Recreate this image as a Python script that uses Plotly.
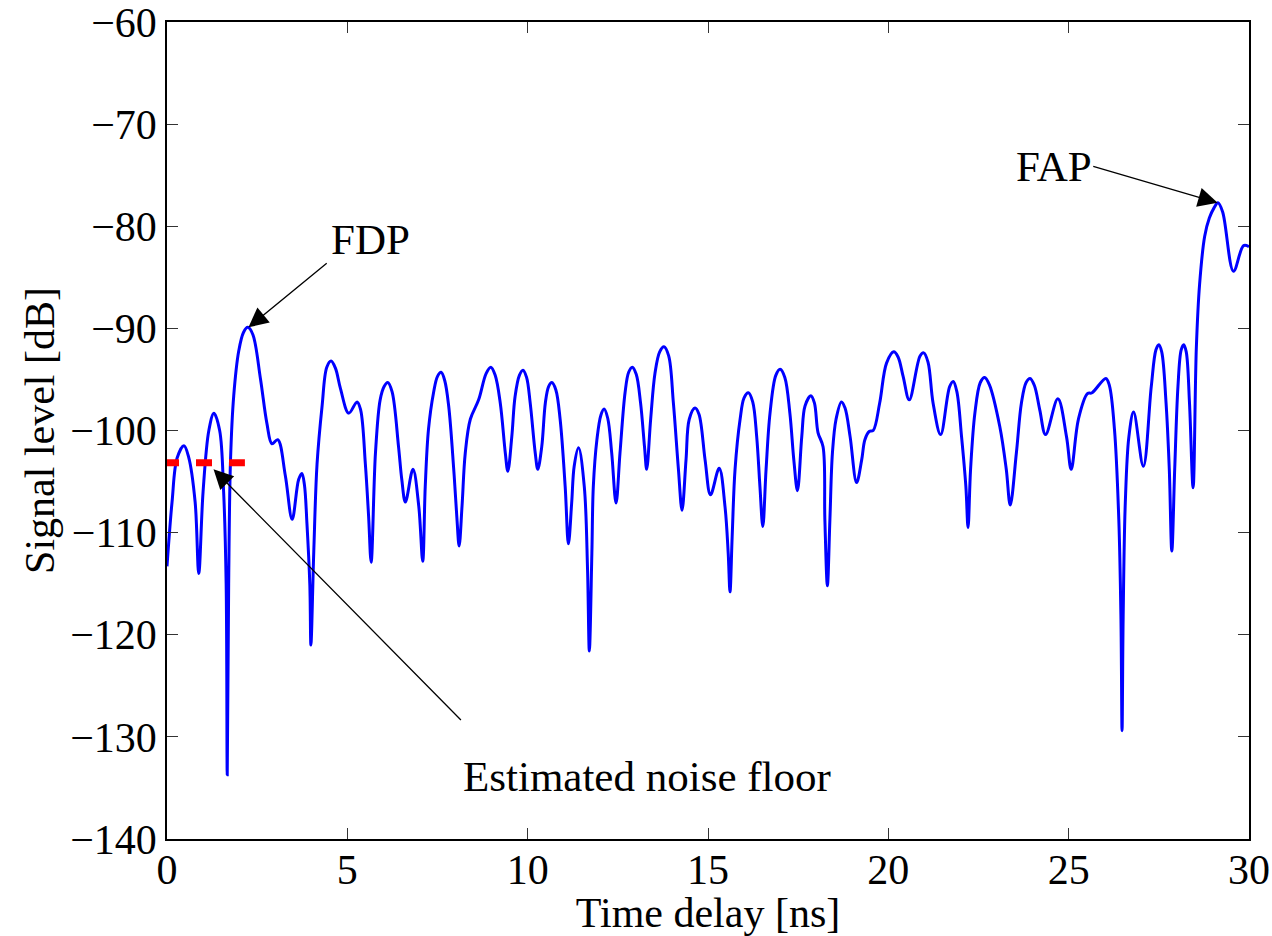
import plotly.graph_objects as go

# Time delay [ns] and signal level [dB]
delay_ns = [
    0.00, 0.14, 0.28, 0.47, 0.60, 0.78, 0.88, 1.00, 1.16, 1.30, 1.46, 1.57, 1.64, 1.67, 1.71,
    1.76, 1.85, 1.99, 2.12, 2.24, 2.38, 2.59, 2.77, 2.91, 3.07, 3.28, 3.47, 3.65, 3.74, 3.81,
    3.88, 3.96, 3.99, 4.07, 4.16, 4.30, 4.43, 4.55, 4.67, 4.81, 5.04, 5.27, 5.37, 5.50, 5.59,
    5.66, 5.78, 5.91, 6.02, 6.12, 6.24, 6.42, 6.51, 6.61, 6.82, 6.98, 7.09, 7.16, 7.25, 7.39,
    7.50, 7.60, 7.70, 7.81, 7.95, 8.04, 8.10, 8.18, 8.27, 8.41, 8.64, 8.85, 8.98, 9.10, 9.24,
    9.38, 9.45, 9.56, 9.65, 9.77, 9.87, 9.97, 10.07, 10.21, 10.28, 10.39, 10.49, 10.58, 10.67,
    10.78, 10.90, 11.04, 11.13, 11.22, 11.29, 11.41, 11.57, 11.66, 11.71, 11.78, 11.82, 11.92,
    12.03, 12.12, 12.22, 12.33, 12.45, 12.56, 12.70, 12.80, 12.90, 13.01, 13.13, 13.24, 13.30,
    13.41, 13.53, 13.66, 13.78, 13.91, 14.04, 14.18, 14.28, 14.39, 14.48, 14.64, 14.75, 14.92,
    15.07, 15.31, 15.47, 15.56, 15.61, 15.67, 15.75, 15.89, 16.00, 16.12, 16.24, 16.35, 16.44,
    16.52, 16.61, 16.72, 16.88, 17.00, 17.13, 17.27, 17.38, 17.48, 17.60, 17.69, 17.85, 17.95,
    18.05, 18.19, 18.24, 18.31, 18.38, 18.45, 18.55, 18.70, 18.80, 18.94, 19.12, 19.26, 19.35,
    19.47, 19.58, 19.76, 19.95, 20.15, 20.27, 20.41, 20.58, 20.88, 20.98, 21.10, 21.24, 21.45,
    21.70, 21.80, 21.90, 22.03, 22.15, 22.21, 22.28, 22.40, 22.55, 22.67, 22.80, 23.09, 23.27,
    23.38, 23.55, 23.69, 23.82, 23.93, 24.05, 24.20, 24.36, 24.70, 24.94, 25.07, 25.27, 25.52,
    25.65, 26.03, 26.13, 26.27, 26.39, 26.45, 26.48, 26.51, 26.57, 26.67, 26.80, 27.07, 27.29,
    27.42, 27.50, 27.58, 27.70, 27.79, 27.86, 27.94, 28.03, 28.12, 28.19, 28.26, 28.35, 28.45,
    28.54, 28.63, 28.77, 28.90, 29.03, 29.14, 29.27, 29.57, 29.85, 30.00,
]
signal_db = [
    -113.3, -107.0, -102.7, -101.5, -102.6, -107.0, -114.0, -106.0, -100.0, -98.3, -100.0, -106.0, -115.0, -133.7, -115.0,
    -103.0, -96.6, -92.2, -90.4, -89.9, -90.6, -94.9, -99.3, -101.3, -100.9, -104.4, -108.7, -104.8, -104.2, -105.3,
    -109.1, -115.1, -121.0, -111.8, -103.3, -97.6, -93.8, -93.2, -93.9, -95.9, -98.3, -97.2, -98.0, -103.3, -108.4,
    -112.9, -102.2, -97.0, -95.7, -95.3, -96.2, -101.6, -104.8, -107.0, -103.8, -107.4, -112.8, -105.5, -99.9, -96.3,
    -94.7, -94.3, -95.1, -97.6, -103.8, -108.7, -111.3, -107.4, -102.2, -98.9, -97.0, -94.4, -93.8, -94.6, -97.3,
    -102.2, -104.0, -100.6, -96.7, -94.6, -94.1, -94.8, -97.3, -102.2, -103.8, -101.6, -97.3, -95.7, -95.3,
    -96.0, -98.9, -105.5, -111.1, -107.1, -103.5, -101.7, -105.5, -113.6, -121.6, -112.0, -105.5, -100.9,
    -98.5, -97.9, -98.8, -102.2, -107.1, -102.2, -96.3, -94.3, -93.8, -94.5, -97.3, -101.6, -103.8,
    -98.9, -94.4, -92.3, -91.8, -92.7, -97.3, -103.8, -107.8, -102.9, -98.9, -97.8, -98.4, -102.9,
    -106.3, -103.7, -107.4, -112.0, -115.8, -110.4, -103.8, -98.9, -96.8, -96.3, -97.2, -100.6, -105.5,
    -109.4, -103.8, -98.3, -94.6, -94.0, -94.8, -98.3, -102.9, -105.9, -100.6, -97.6, -96.6, -97.3,
    -100.2, -101.6, -108.7, -115.2, -108.7, -102.2, -98.9, -97.2, -97.8, -100.6, -105.1, -102.9, -100.9,
    -100.1, -100.0, -97.3, -93.4, -92.3, -92.8, -94.7, -97.0, -92.7, -92.4, -93.3, -97.3, -100.4,
    -95.7, -95.2, -96.2, -100.6, -105.5, -109.5, -103.8, -98.3, -95.3, -94.8, -95.5, -99.6, -103.8,
    -107.3, -102.2, -97.3, -95.3, -94.9, -95.6, -98.0, -100.4, -96.9, -100.6, -103.8, -98.9, -96.4,
    -96.3, -94.9, -95.6, -99.9, -108.7, -118.5, -129.4, -118.5, -107.1, -100.6, -98.2, -103.5, -95.7,
    -92.1, -91.6, -92.3, -97.3, -103.8, -111.8, -103.8, -95.7, -92.1, -91.6, -92.3, -97.3, -105.6,
    -91.9, -85.7, -81.0, -79.2, -78.2, -77.7, -78.6, -84.4, -81.9, -82.0,
]

# Estimated noise floor segment
noise_x = [0.0, 2.16]
noise_y = [-103.15, -103.15]

x_ticks = [0, 5, 10, 15, 20, 25, 30]
y_ticks = [-140, -130, -120, -110, -100, -90, -80, -70, -60]

FONT = "Liberation Serif"

fig = go.Figure()
fig.add_trace(go.Scatter(
    x=delay_ns, y=signal_db, mode="lines",
    line=dict(color="rgb(0,0,255)", width=3, shape="spline", smoothing=1.0),
    showlegend=False, hoverinfo="skip",
))
fig.add_trace(go.Scatter(
    x=noise_x, y=noise_y, mode="lines",
    line=dict(color="rgb(255,0,0)", width=7, dash="12px,17px,16px,17px,16px,600px"),
    showlegend=False, hoverinfo="skip",
))

# Arrows (empty text, tail in data coordinates)
arrows = [
    dict(x=2.26, y=-89.9, ax=4.47, ay=-83.5),      # FDP
    dict(x=29.13, y=-77.7, ax=25.64, ay=-74.1),    # FAP
    dict(x=1.29, y=-103.8, ax=8.19, ay=-128.5),    # noise floor
]
for a in arrows:
    fig.add_annotation(
        x=a["x"], y=a["y"], ax=a["ax"], ay=a["ay"], xref="x", yref="y",
        axref="x", ayref="y", text="", showarrow=True,
        arrowhead=2, arrowsize=3, arrowwidth=1.3, arrowcolor="black",
    )

labels = [
    dict(text="FDP", x=5.64, y=-81.3),
    dict(text="FAP", x=24.6, y=-74.1),
    dict(text="Estimated noise floor", x=13.31, y=-133.9),
]
for l in labels:
    fig.add_annotation(
        x=l["x"], y=l["y"], xref="x", yref="y", text=l["text"], showarrow=False,
        font=dict(family=FONT, size=43, color="black"),
        xanchor="center", yanchor="middle",
    )

axis_common = dict(
    showline=True, linecolor="black", linewidth=1.5, mirror="ticks",
    ticks="inside", ticklen=11, tickwidth=1.3, tickcolor="#333333",
    showgrid=False, zeroline=False, automargin=False,
    ticklabeloverflow="allow",
    tickfont=dict(family=FONT, size=42, color="black"),
)

fig.update_layout(
    width=1272, height=936,
    margin=dict(l=166.5, r=22.5, t=22, b=97),
    paper_bgcolor="white", plot_bgcolor="white",
    xaxis=dict(range=[0, 30], tickvals=x_ticks,
               title=dict(text="Time delay [ns]", font=dict(family=FONT, size=42, color="black"), standoff=4),
               ticklabelstandoff=-7, **axis_common),
    yaxis=dict(range=[-140, -60], tickvals=y_ticks,
               title=dict(text="Signal level [dB]", font=dict(family=FONT, size=42, color="black"), standoff=2),
               ticklabelstandoff=0, **axis_common),
    hovermode=False,
)

fig.write_html("out.html")
